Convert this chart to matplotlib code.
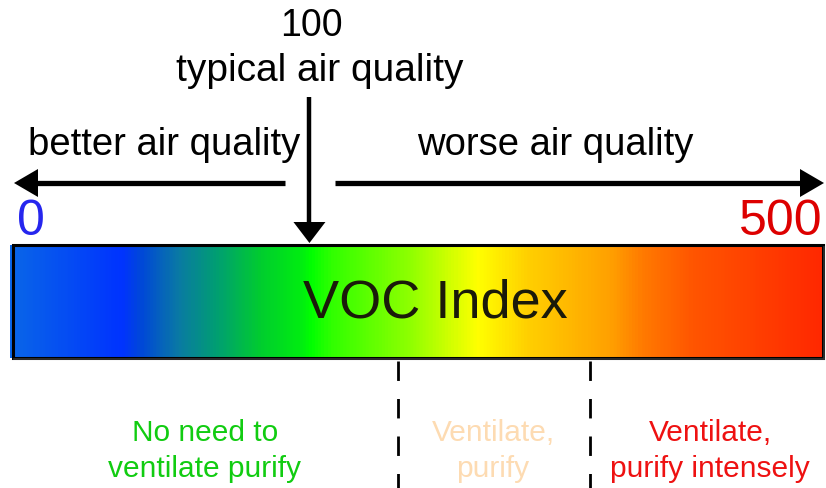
import numpy as np
import matplotlib
matplotlib.use("Agg")
import matplotlib.pyplot as plt
from matplotlib.colors import LinearSegmentedColormap
from matplotlib.patches import Rectangle, Polygon

# ---- data ----
index_min, index_max = 0, 500
typical_value = 100
thresholds = [150, 250]
zone_labels = ["No need to\nventilate purify", "Ventilate,\npurify", "Ventilate,\npurify intensely"]
zone_colors = ["#11cc11", "#fddbb2", "#ee1111"]
direction_labels = ["better air quality", "worse air quality"]
typical_label = "typical air quality"
bar_label = "VOC Index"

# nonlinear placement of the VOC index along the bar (fraction of bar width)
index_knots = [0, 100, 150, 250, 500]
bar_fraction = [0.0, 0.368, 0.476, 0.713, 1.0]

# colour gradient stops (fraction of bar width)
gradient_pos = [0.0, 0.136, 0.16, 0.206, 0.255, 0.306, 0.358, 0.37, 0.395,
                0.493, 0.576, 0.637, 0.74, 0.78, 0.842, 0.904, 1.0]
gradient_cols = ["#0a66e8", "#0033ff", "#0048d8", "#0a7aa4", "#00a070",
                 "#00cc30", "#00ee10", "#00ff00", "#30ff00", "#90ff00",
                 "#ffff00", "#ffd000", "#ffa000", "#ff7a00", "#ff5500",
                 "#ff4400", "#ff2800"]

font = "Liberation Sans"

fig = plt.figure(figsize=(8.26, 4.88), dpi=100)
ax = fig.add_axes([0, 0, 1, 1])
ax.set_xlim(0, 826)
ax.set_ylim(488, 0)
ax.axis("off")

x0, x1 = 12, 823
y0, y1 = 245, 358


def xpos(v):
    return x0 + np.interp(v, index_knots, bar_fraction) * (x1 - x0)


# gradient bar
cmap = LinearSegmentedColormap.from_list("voc", list(zip(gradient_pos, gradient_cols)))
grad = np.linspace(0, 1, 800)[None, :]
ax.imshow(grad, cmap=cmap, extent=(x0 - 2, x1, y1, y0), aspect="auto", zorder=1,
          interpolation="bilinear")
ax.add_patch(Rectangle((x0 + 1, y0), x1 - x0 - 1, y1 - y0, fill=False,
                       edgecolor="black", linewidth=2.2, zorder=3))
ax.plot([x0 + 2, x1 + 1], [y1 + 1, y1 + 1], color="#333333", lw=1.2, zorder=3)
ax.plot([x1 + 1, x1 + 1], [y0 + 2, y1 + 1], color="#333333", lw=1.2, zorder=3)

ax.text(435, 303, bar_label, fontsize=39, family=font, color="#1a1a0a",
        ha="center", va="center", zorder=4)

# min / max labels
ax.text(xpos(index_min) + 5, 222, str(index_min), fontsize=36, family=font,
        color="#2626ee", ha="left", va="center")
ax.text(xpos(index_max), 222, str(index_max), fontsize=36, family=font,
        color="#dd0000", ha="right", va="center")

# typical marker
xt = xpos(typical_value) - 1
ax.text(xt + 2, 26, str(typical_value), fontsize=27, family=font,
        ha="center", va="center")
ax.text(xt + 10, 71, typical_label, fontsize=28, family=font,
        ha="center", va="center")
ax.plot([xt, xt], [97, 226], color="black", lw=3.2, solid_capstyle="butt")
ax.add_patch(Polygon([[xt - 16, 222], [xt + 16, 222], [xt, 243]],
                     closed=True, color="black", lw=0))

# direction arrows
ya = 183
ax.plot([34, 285], [ya, ya], color="black", lw=3.8, solid_capstyle="butt")
ax.add_patch(Polygon([[14, ya], [38, ya - 14], [38, ya + 14]], closed=True,
                     color="black", lw=0))
ax.plot([335, 802], [ya, ya], color="black", lw=3.8, solid_capstyle="butt")
ax.add_patch(Polygon([[824, ya], [800, ya - 14], [800, ya + 14]], closed=True,
                     color="black", lw=0))
ax.text(164, 145, direction_labels[0], fontsize=27.5, family=font,
        ha="center", va="center")
ax.text(555, 145, direction_labels[1], fontsize=27.5, family=font,
        ha="center", va="center")

# thresholds
for t in thresholds:
    xx = xpos(t)
    ax.plot([xx, xx], [361, 488], color="black", lw=2, linestyle=(0, (7, 6.5)))

# zone labels
zone_x = [205, 493, 710]
for lab, col, zx in zip(zone_labels, zone_colors, zone_x):
    ax.text(zx, 451, lab, fontsize=21.5, family=font, color=col,
            ha="center", va="center", linespacing=1.35)

fig.savefig("out.png", dpi=100)
